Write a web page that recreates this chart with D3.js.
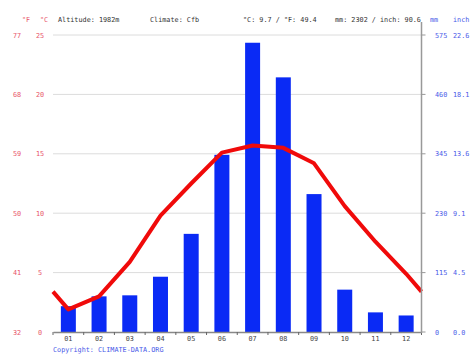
<!DOCTYPE html>
<html><head><meta charset="utf-8">
<script src="https://cdn.jsdelivr.net/npm/d3@7"></script>
<style>body{margin:0;background:#fff}svg{display:block}text{font-family:"DejaVu Sans Mono",monospace;font-size:6.8px}</style>
</head><body><svg id="c" width="474" height="355"></svg>
<script>
const months = ["01","02","03","04","05","06","07","08","09","10","11","12"];
const precipMM = [50, 69, 71, 107, 190, 343, 560, 493, 267, 82, 38, 32];
const tempC = [1.9, 3.0, 5.9, 9.8, 12.5, 15.1, 15.7, 15.5, 14.2, 10.6, 7.6, 4.9];
const cTicks = [0, 5, 10, 15, 20, 25];
const fTicks = ["32","41","50","59","68","77"];
const mmTicks = [0, 115, 230, 345, 460, 575];
const inchTicks = ["0.0","4.5","9.1","13.6","18.1","22.6"];
const header = [["°F",22,"#e8556a"],["°C",40,"#e8556a"],["Altitude: 1982m",58,"#333"],["Climate: Cfb",150,"#333"],["°C: 9.7 / °F: 49.4",243,"#333"],["mm: 2302 / inch: 90.6",335,"#333"],["mm",430,"#4a5ae8"],["inch",453,"#4a5ae8"]];

const svg = d3.select("#c");
const L = 53, R = 421.5, T = 35, B = 332;
const x = d3.scaleBand().domain(months).range([L, R]);
const yC = d3.scaleLinear().domain([0, 25]).range([B, T]);
const yMM = d3.scaleLinear().domain([0, 575]).range([B, T]);
const red = "#e8556a", blue = "#4a5ae8";

// gridlines
svg.append("g").selectAll("line").data(cTicks.slice(1)).join("line")
  .attr("x1", L).attr("x2", R).attr("y1", d => yC(d)).attr("y2", d => yC(d))
  .attr("stroke", "#dcdcdc").attr("stroke-width", 1);

// left tick labels
svg.append("g").selectAll("text").data(cTicks).join("text")
  .attr("x", 40).attr("y", d => yC(d) + 2.5).attr("text-anchor", "middle").attr("fill", red).text(d => d);
svg.append("g").selectAll("text").data(fTicks).join("text")
  .attr("x", 17).attr("y", (d, i) => yC(cTicks[i]) + 2.5).attr("text-anchor", "middle").attr("fill", red).text(d => d);

// bars
const bw = 15;
svg.append("g").selectAll("rect").data(precipMM).join("rect")
  .attr("x", (d, i) => x(months[i]) + x.bandwidth() / 2 - bw / 2)
  .attr("width", bw)
  .attr("y", d => yMM(d)).attr("height", d => B - yMM(d))
  .attr("fill", "#0a2af5");

// temperature line, extended to edges
const edge = (tempC[0] + tempC[11]) / 2;
const pts = [[L, yC(edge)]].concat(tempC.map((d, i) => [x(months[i]) + x.bandwidth() / 2, yC(d)])).concat([[R, yC(edge)]]);
svg.append("path").attr("d", d3.line()(pts)).attr("fill", "none")
  .attr("stroke", "#f00a0a").attr("stroke-width", 4).attr("stroke-linejoin", "round");

// bottom axis
const xAxis = d3.axisBottom(x).tickSize(0).tickPadding(3);
const gx = svg.append("g").attr("transform", `translate(0,${B})`).call(xAxis);
gx.select(".domain").attr("stroke", "#888").attr("stroke-width", 1.5);
gx.selectAll("text").attr("fill", "#444").attr("dy", "0.9em").style("font-family", "DejaVu Sans Mono").style("font-size", "6.8px");
svg.append("g").selectAll("line").data(d3.range(13)).join("line")
  .attr("x1", i => L + i * x.bandwidth()).attr("x2", i => L + i * x.bandwidth())
  .attr("y1", B).attr("y2", B + 3).attr("stroke", "#666");

// right axis
svg.append("line").attr("x1", R).attr("x2", R).attr("y1", 22).attr("y2", B + 1).attr("stroke", "#999").attr("stroke-width", 1.5);
svg.append("g").selectAll("line").data(mmTicks).join("line")
  .attr("x1", R).attr("x2", R + 4).attr("y1", d => yMM(d)).attr("y2", d => yMM(d)).attr("stroke", "#999");
svg.append("g").selectAll("text").data(mmTicks).join("text")
  .attr("x", 435).attr("y", d => yMM(d) + 2.5).attr("fill", blue).text(d => d);
svg.append("g").selectAll("text").data(inchTicks).join("text")
  .attr("x", 453).attr("y", (d, i) => yMM(mmTicks[i]) + 2.5).attr("fill", blue).text(d => d);

// header
svg.append("g").selectAll("text").data(header).join("text")
  .attr("x", d => d[1]).attr("y", 22).attr("fill", d => d[2]).text(d => d[0]);

svg.append("text").attr("x", 53).attr("y", 352).attr("fill", blue).text("Copyright: CLIMATE-DATA.ORG");
</script></body></html>
